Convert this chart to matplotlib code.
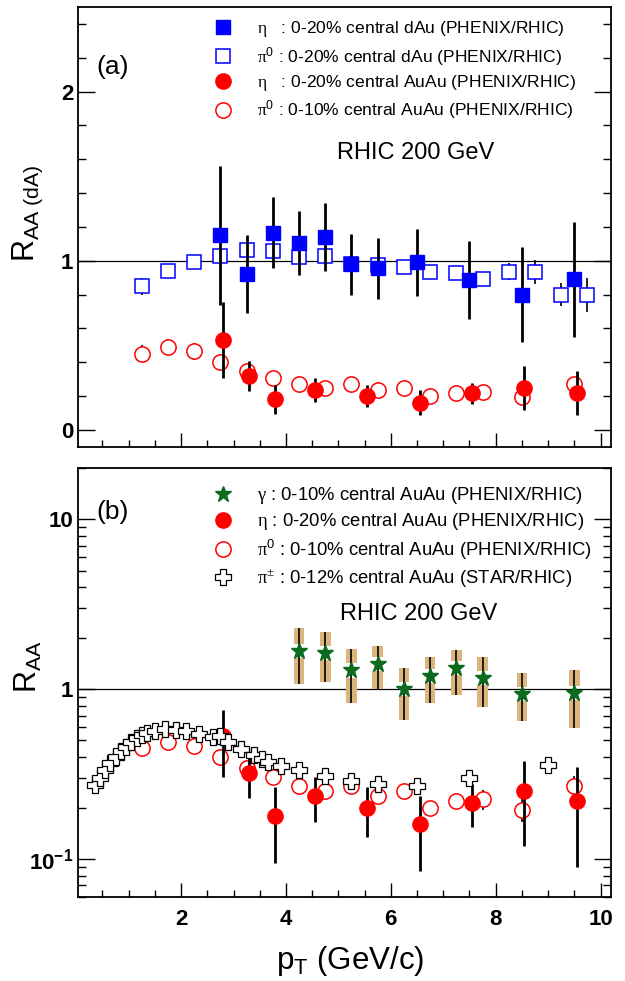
import matplotlib
matplotlib.use("Agg")
import matplotlib.pyplot as plt
from matplotlib.lines import Line2D
from matplotlib.ticker import MultipleLocator, LogLocator, NullFormatter

plt.rcParams["font.family"] = ["Liberation Sans", "DejaVu Sans"]
plt.rcParams["mathtext.fontset"] = "custom"
plt.rcParams["mathtext.rm"] = "Liberation Serif"
plt.rcParams["mathtext.sf"] = "Liberation Sans"
plt.rcParams["mathtext.bf"] = "Liberation Sans:bold"
plt.rcParams["mathtext.it"] = "Liberation Sans:italic"

# eta, 0-20% central dAu
eta_dau_pt = [2.75, 3.25, 3.75, 4.25, 4.75, 5.25, 5.75, 6.5, 7.5, 8.5, 9.5]
eta_dau_raa = [1.15, 0.92, 1.165, 1.105, 1.14, 0.98, 0.955, 0.99, 0.885, 0.80, 0.89]
eta_dau_err = [0.41, 0.23, 0.21, 0.19, 0.20, 0.18, 0.18, 0.20, 0.23, 0.28, 0.34]

# pi0, 0-20% central dAu
pi0_dau_pt = [1.25, 1.75, 2.25, 2.75, 3.25, 3.75, 4.25, 4.75, 5.25, 5.75,
              6.25, 6.75, 7.25, 7.75, 8.25, 8.75, 9.25, 9.75]
pi0_dau_raa = [0.85, 0.94, 0.99, 1.025, 1.065, 1.055, 1.02, 1.025, 0.98, 0.975,
               0.965, 0.935, 0.93, 0.89, 0.935, 0.935, 0.80, 0.795]
pi0_dau_err = [0.05, 0.03, 0.03, 0.03, 0.03, 0.03, 0.03, 0.03, 0.03, 0.03,
               0.03, 0.03, 0.03, 0.04, 0.05, 0.07, 0.07, 0.10]

# eta, 0-20% central AuAu
eta_auau_pt = [2.8, 3.3, 3.8, 4.55, 5.55, 6.55, 7.55, 8.55, 9.55]
eta_auau_raa = [0.53, 0.32, 0.18, 0.235, 0.20, 0.16, 0.215, 0.25, 0.22]
eta_auau_err = [0.225, 0.09, 0.085, 0.07, 0.065, 0.075, 0.06, 0.13, 0.13]

# pi0, 0-10% central AuAu
pi0_auau_pt = [1.25, 1.75, 2.25, 2.75, 3.25, 3.75, 4.25, 4.75, 5.25, 5.75,
               6.25, 6.75, 7.25, 7.75, 8.5, 9.5]
pi0_auau_raa = [0.45, 0.49, 0.465, 0.40, 0.345, 0.305, 0.27, 0.25, 0.27, 0.235,
                0.25, 0.20, 0.22, 0.225, 0.195, 0.27]
pi0_auau_err = [0.05, 0.05, 0.05, 0.04, 0.03, 0.03, 0.02, 0.02, 0.02, 0.02,
                0.02, 0.02, 0.02, 0.03, 0.03, 0.04]

# direct photons, 0-10% central AuAu (stat = syst range)
gamma_pt = [4.25, 4.75, 5.25, 5.75, 6.25, 6.75, 7.25, 7.75, 8.5, 9.5]
gamma_raa = [1.69, 1.64, 1.29, 1.41, 1.0, 1.19, 1.33, 1.17, 0.94, 0.95]
gamma_err_up = [0.62, 0.54, 0.43, 0.39, 0.33, 0.36, 0.38, 0.37, 0.30, 0.35]
gamma_err_dn = [0.615, 0.53, 0.46, 0.41, 0.34, 0.355, 0.40, 0.38, 0.29, 0.36]

# charged pions, 0-12% central AuAu (STAR)
pipm_pt = [0.35, 0.45, 0.55, 0.65, 0.75, 0.85, 0.95, 1.05, 1.15, 1.25, 1.35,
           1.5, 1.7, 1.9, 2.1, 2.35, 2.6, 2.75, 2.9, 3.15, 3.4, 3.55, 3.65,
           3.9, 4.25, 4.75, 5.25, 5.75, 6.5, 7.5, 9.0]
pipm_raa = [0.272, 0.30, 0.335, 0.368, 0.40, 0.43, 0.46, 0.49, 0.515, 0.535, 0.555,
            0.57, 0.585, 0.575, 0.565, 0.545, 0.525, 0.53, 0.49, 0.445, 0.41, 0.39, 0.375,
            0.355, 0.333, 0.307, 0.29, 0.275, 0.268, 0.30, 0.36]

BLUE = "#0000ff"
RED = "#ff0000"
GREEN = "#0b6b1e"
TAN = "#dcb47e"

fig = plt.figure(figsize=(6.25, 9.81), dpi=100)
ax_a = fig.add_axes([0.1253, 0.5446, 0.8523, 0.4482])
ax_b = fig.add_axes([0.1253, 0.0859, 0.8523, 0.4367])


def style_axes(ax):
    for sp in ax.spines.values():
        sp.set_linewidth(1.3)
    ax.set_xlim(0.04, 10.2)
    ax.xaxis.set_major_locator(MultipleLocator(2))
    ax.xaxis.set_minor_locator(MultipleLocator(0.5))
    ax.tick_params(which="both", direction="in", top=False, right=True, width=1.0)
    ax.tick_params(axis="x", which="major", length=10, pad=8.5, labelsize=16)
    ax.tick_params(axis="x", which="minor", length=5)
    ax.tick_params(axis="y", which="major", length=12, pad=3.6, labelsize=16)
    ax.tick_params(axis="y", which="minor", length=6)
    ax.axhline(1.0, color="k", lw=0.9, zorder=1)


def open_points(ax, x, y, err, marker, color, ms):
    ax.errorbar(x, y, yerr=err, fmt="none", ecolor="k", elinewidth=1.2, capsize=0, zorder=2)
    ax.plot(x, y, ls="none", marker=marker, ms=ms, mfc="white", mec=color, mew=1.1, zorder=3)


def filled_points(ax, x, y, err, marker, color, ms):
    ax.errorbar(x, y, yerr=err, fmt="none", ecolor="k", elinewidth=2.0, capsize=0, zorder=4)
    ax.plot(x, y, ls="none", marker=marker, ms=ms, mfc=color, mec=color, zorder=5)


# (a) linear scale, dAu and AuAu
style_axes(ax_a)
ax_a.set_ylim(-0.1, 2.5)
ax_a.yaxis.set_major_locator(MultipleLocator(1))
ax_a.yaxis.set_minor_locator(MultipleLocator(0.2))
ax_a.tick_params(axis="x", labelbottom=False)
ax_a.set_yticks([0, 1, 2])
ax_a.set_yticklabels(["0", "1", "2"], fontweight="bold")

open_points(ax_a, pi0_dau_pt, pi0_dau_raa, pi0_dau_err, "s", BLUE, 10.5)
open_points(ax_a, pi0_auau_pt, pi0_auau_raa, pi0_auau_err, "o", RED, 11)
filled_points(ax_a, eta_dau_pt, eta_dau_raa, eta_dau_err, "s", BLUE, 10.5)
filled_points(ax_a, eta_auau_pt, eta_auau_raa, eta_auau_err, "o", RED, 11)

handles_a = [
    Line2D([], [], ls="none", marker="s", ms=10.5, mfc=BLUE, mec=BLUE),
    Line2D([], [], ls="none", marker="s", ms=10.5, mfc="white", mec=BLUE, mew=1.1),
    Line2D([], [], ls="none", marker="o", ms=11, mfc=RED, mec=RED),
    Line2D([], [], ls="none", marker="o", ms=11, mfc="white", mec=RED, mew=1.1),
]
labels_a = [
    r"$\mathrm{\eta}$   : 0-20% central dAu (PHENIX/RHIC)",
    r"$\mathrm{\pi}^{\mathsf{0}}$ : 0-20% central dAu (PHENIX/RHIC)",
    r"$\mathrm{\eta}$   : 0-20% central AuAu (PHENIX/RHIC)",
    r"$\mathrm{\pi}^{\mathsf{0}}$ : 0-10% central AuAu (PHENIX/RHIC)",
]
ax_a.legend(handles_a, labels_a, loc="upper left", bbox_to_anchor=(0.252, 0.972),
            frameon=False, fontsize=12.6, handlelength=1.2, handletextpad=1.34,
            labelspacing=0.31, borderpad=0, borderaxespad=0)
ax_a.text(0.634, 0.668, "RHIC 200 GeV", transform=ax_a.transAxes,
          ha="center", va="center", fontsize=17)
ax_a.text(0.0635, 0.8635, "(a)", transform=ax_a.transAxes,
          ha="center", va="center", fontsize=19)

# (b) log scale, AuAu with photons and charged pions
style_axes(ax_b)
ax_b.set_yscale("log")
ax_b.set_ylim(0.06, 20)
ax_b.yaxis.set_minor_locator(LogLocator(base=10, subs=range(2, 10)))
ax_b.yaxis.set_minor_formatter(NullFormatter())
ax_b.set_yticks([0.1, 1, 10])
ax_b.set_yticklabels([r"$\mathbf{10^{-1}}$", "1", "10"], fontweight="bold")
ax_b.set_xticks([2, 4, 6, 8, 10])
ax_b.set_xticklabels(["2", "4", "6", "8", "10"], fontweight="bold")

# photon systematic boxes, split around the marker
for x, y, up, dn in zip(gamma_pt, gamma_raa, gamma_err_up, gamma_err_dn):
    ax_b.bar(x, (y + up) - y * 1.1, bottom=y * 1.1, width=0.2, color=TAN, lw=0, zorder=2)
    ax_b.bar(x, y / 1.1 - (y - dn), bottom=y - dn, width=0.2, color=TAN, lw=0, zorder=2)
ax_b.errorbar(gamma_pt, gamma_raa, yerr=[gamma_err_dn, gamma_err_up], fmt="none",
              ecolor="k", elinewidth=1.2, capsize=0, zorder=3)
ax_b.plot(gamma_pt, gamma_raa, ls="none", marker="*", ms=12, mfc=GREEN, mec=GREEN, zorder=4)

open_points(ax_b, pi0_auau_pt, pi0_auau_raa, pi0_auau_err, "o", RED, 11)
filled_points(ax_b, eta_auau_pt, eta_auau_raa, eta_auau_err, "o", RED, 11)
ax_b.plot(pipm_pt, pipm_raa, ls="none", marker="P", ms=12, mfc="white", mec="k",
          mew=0.9, zorder=6)

handles_b = [
    Line2D([], [], ls="none", marker="*", ms=12, mfc=GREEN, mec=GREEN),
    Line2D([], [], ls="none", marker="o", ms=11, mfc=RED, mec=RED),
    Line2D([], [], ls="none", marker="o", ms=11, mfc="white", mec=RED, mew=1.1),
    Line2D([], [], ls="none", marker="P", ms=12, mfc="white", mec="k", mew=0.9),
]
labels_b = [
    r"$\mathrm{\gamma}$ : 0-10% central AuAu (PHENIX/RHIC)",
    r"$\mathrm{\eta}$ : 0-20% central AuAu (PHENIX/RHIC)",
    r"$\mathrm{\pi}^{\mathsf{0}}$ : 0-10% central AuAu (PHENIX/RHIC)",
    r"$\mathrm{\pi}^{\pm}$ : 0-12% central AuAu (STAR/RHIC)",
]
ax_b.legend(handles_b, labels_b, loc="upper left", bbox_to_anchor=(0.251, 0.961),
            frameon=False, fontsize=13.3, handlelength=1.2, handletextpad=1.26,
            labelspacing=0.29, borderpad=0, borderaxespad=0)
ax_b.text(0.638, 0.66, "RHIC 200 GeV", transform=ax_b.transAxes,
          ha="center", va="center", fontsize=17)
ax_b.text(0.0635, 0.898, "(b)", transform=ax_b.transAxes,
          ha="center", va="center", fontsize=19)

# axis titles
fig.text(28 / 625, 1 - 262 / 981, r"R$_{\mathsf{AA\ (dA)}}$", rotation=90,
         rotation_mode="anchor", ha="left", va="center", fontsize=22)
fig.text(28 / 625, 1 - 693 / 981, r"R$_{\mathsf{AA}}$", rotation=90,
         rotation_mode="anchor", ha="left", va="center", fontsize=22)
fig.text(350 / 625, 1 - 961 / 981, r"p$_{\mathsf{T}}$ (GeV/c)",
         ha="center", va="center", fontsize=22.5)

fig.savefig("out.png", dpi=100)
